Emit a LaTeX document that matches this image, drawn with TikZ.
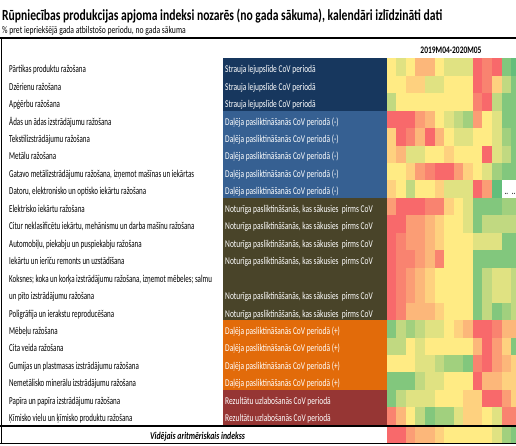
\documentclass[tikz,border=0pt]{standalone}
\usepackage{fontspec}
\setmainfont{Carlito}
\newfontfamily\labf[FakeStretch=0.75]{Carlito}
\newfontfamily\rowf[FakeStretch=0.66]{Carlito}
\newfontfamily\catf[FakeStretch=0.715]{Carlito}
\definecolor{hred}{HTML}{F8696B}
\definecolor{hyel}{HTML}{FFEB84}
\definecolor{hgrn}{HTML}{63BE7B}
\definecolor{navyc}{HTML}{17375E}
\definecolor{steelc}{HTML}{366092}
\definecolor{olivec}{HTML}{494429}
\definecolor{orngc}{HTML}{E26B0A}
\definecolor{dredc}{HTML}{963634}
\tikzset{
  lab/.style={anchor=base west, inner sep=0pt, font=\rowf\fontsize{10.6}{12}\selectfont, text=black},
  catlab/.style={anchor=base west, inner sep=0pt, font=\catf\fontsize{10.4}{12}\selectfont, text=white},
}
\begin{document}
\begin{tikzpicture}[x=1pt,y=-1pt]
\useasboundingbox (0,0) rectangle (516,446);
\clip (0,0) rectangle (516,446);
\fill[white] (0,0) rectangle (516,446);
\def\rowtop{58.3}
\def\rh{17.45}
\def\cx{386.7}
\def\cw{9.57}
\def\catx{222.7}
% title
\node[anchor=base west, inner sep=0pt, font=\labf\bfseries\fontsize{15.5}{18}\selectfont] (title) at (2,20.5) {Rūpniecības produkcijas apjoma indeksi nozarēs (no gada sākuma), kalendāri izlīdzināti dati};
\node[anchor=base west, inner sep=0pt, font=\labf\fontsize{10.2}{12}\selectfont] (sub) at (2,33.5) {\% pret iepriekšējā gada atbilstošo periodu, no gada sākuma};
\draw[line width=2pt] (0,37.8) -- (516,37.8);
\node[anchor=base, inner sep=0pt, font=\labf\bfseries\fontsize{10}{12}\selectfont] (hdr) at (451,53.5) {2019M04-2020M05};
% category blocks
\fill[navyc] (\catx,{\rowtop}) rectangle (\cx,{\rowtop+3*\rh});
\fill[steelc] (\catx,{\rowtop+3*\rh}) rectangle (\cx,{\rowtop+8*\rh});
\fill[olivec] (\catx,{\rowtop+8*\rh}) rectangle (\cx,{\rowtop+15*\rh});
\fill[orngc] (\catx,{\rowtop+15*\rh}) rectangle (\cx,{\rowtop+19*\rh});
\fill[dredc] (\catx,{\rowtop+19*\rh}) rectangle (\cx,{\rowtop+21*\rh});
% heat cells
\foreach \k/\n/\vals in {
 0/1/{5,6,5,3,3,5,6,6,6,0,1,0,9,10},
 1/1/{5,5,4,4,6,6,5,5,5,0,1,4,7,9},
 2/1/{7,5,5,5,5,5,5,5,5,1,0,7,9,9},
 3/1/{0,0,0,2,3,5,6,7,8,2,5,6,9,9},
 4/1/{4,0,1,3,0,3,5,6,6,5,5,6,8,9},
 5/1/{4,3,6,6,5,5,4,5,5,5,0,6,7,9},
 6/1/{5,5,4,2,1,0,0,2,4,5,6,8,9,9},
 7/1/{4,5,7,5,5,4,6,6,6,0,2,10},
 8/1/{2,0,0,0,1,1,4,5,6,9,9,9,8,8},
 9/1/{0,0,2,2,3,4,5,5,6,9,7,7,7,7},
 10/1/{0,1,2,2,3,4,5,5,5,6,6,6,9,9},
 11/1/{0,1,1,2,3,1,5,5,5,9,9,9,9,9},
 12/2/{0,1,2,3,4,5,5,5,5,9,7,6,6,7},
 14/1/{0,1,3,3,3,4,5,5,5,9,7,9,8,7},
 15/1/{9,7,8,7,6,6,5,4,3,0,0,1,3,3},
 16/1/{7,7,5,6,5,5,5,5,5,3,0,2,4,9},
 17/1/{5,5,5,6,6,7,8,8,9,1,0,2,3,4},
 18/1/{9,9,9,7,6,6,5,5,5,0,3,3,4,4},
 19/1/{9,7,6,6,6,5,5,5,4,4,0,0,2,4},
 20/1/{1,3,5,7,9,8,8,6,4,4,5,6,1,1}} {
  \foreach \v [count=\c from 0] in \vals {
    \pgfmathtruncatemacro\lo{\v<=5}
    \ifnum\lo=1 \pgfmathtruncatemacro\p{\v*20}\colorlet{cellc}{hyel!\p!hred}%
    \else \pgfmathtruncatemacro\p{(\v-5)*20}\colorlet{cellc}{hgrn!\p!hyel}\fi
    \fill[cellc] ({\cx+\c*\cw},{\rowtop+\k*\rh}) rectangle ({\cx+(\c+1)*\cw+0.3},{\rowtop+(\k+\n)*\rh+0.3});
  }
}
% white cells with ..
\fill[white] ({\cx+12*\cw},{\rowtop+7*\rh}) rectangle (516,{\rowtop+8*\rh});
\node[lab, anchor=base] (dots1) at ({\cx+12.5*\cw},{\rowtop+8*\rh-3}) {..};
\node[lab, anchor=base east] (dots2) at (515.5,{\rowtop+8*\rh-3}) {..};
% average row
\foreach \v [count=\c from 0] in {0,0,2,3,3,4,5,5,5,5,5,6,8,9} {
    \pgfmathtruncatemacro\lo{\v<=5}
    \ifnum\lo=1 \pgfmathtruncatemacro\p{\v*20}\colorlet{cellc}{hyel!\p!hred}%
    \else \pgfmathtruncatemacro\p{(\v-5)*20}\colorlet{cellc}{hgrn!\p!hyel}\fi
    \fill[cellc] ({\cx+\c*\cw},427) rectangle ({\cx+(\c+1)*\cw+0.3},443.5);
}
\node[anchor=base, inner sep=0pt, font=\labf\bfseries\itshape\fontsize{10.4}{12}\selectfont] (avg) at (197.5,439) {Vidējais aritmēriskais indekss};
% row labels
\foreach \k/\t in {
 0/{Pārtikas produktu ražošana},
 1/{Dzērienu ražošana},
 2/{Apģērbu ražošana},
 3/{Ādas un ādas izstrādājumu ražošana},
 4/{Tekstilizstrādājumu ražošana},
 5/{Metālu ražošana},
 6/{Gatavo metālizstrādājumu ražošana, izņemot mašīnas un iekārtas},
 7/{Datoru, elektronisko un optisko iekārtu ražošana},
 8/{Elektrisko iekārtu ražošana},
 9/{Citur neklasificētu iekārtu, mehānismu un darba mašīnu ražošana},
 10/{Automobiļu, piekabju un puspiekabju ražošana},
 11/{Iekārtu un ierīču remonts un uzstādīšana},
 12/{Koksnes; koka un korķa izstrādājumu ražošana, izņemot mēbeles; salmu},
 13/{un pīto izstrādājumu ražošana},
 14/{Poligrāfija un ierakstu reproducēšana},
 15/{Mēbeļu ražošana},
 16/{Cita veida ražošana},
 17/{Gumijas un plastmasas izstrādājumu ražošana},
 18/{Nemetālisko minerālu izstrādājumu ražošana},
 19/{Papīra un papīra izstrādājumu ražošana},
 20/{Ķīmisko vielu un ķīmisko produktu ražošana}} {
  \node[lab] (l\k) at (9,{\rowtop+(\k+1)*\rh-3}) {\t};
}
% category labels
\foreach \k/\t in {
 0/{Strauja lejupslīde CoV periodā},
 1/{Strauja lejupslīde CoV periodā},
 2/{Strauja lejupslīde CoV periodā},
 3/{Daļēja pasliktināšanās CoV periodā (-)},
 4/{Daļēja pasliktināšanās CoV periodā (-)},
 5/{Daļēja pasliktināšanās CoV periodā (-)},
 6/{Daļēja pasliktināšanās CoV periodā (-)},
 7/{Daļēja pasliktināšanās CoV periodā (-)},
 8/{Noturīga pasliktināšanās, kas sākusies\ \ pirms CoV},
 9/{Noturīga pasliktināšanās, kas sākusies\ \ pirms CoV},
 10/{Noturīga pasliktināšanās, kas sākusies\ \ pirms CoV},
 11/{Noturīga pasliktināšanās, kas sākusies\ \ pirms CoV},
 13/{Noturīga pasliktināšanās, kas sākusies\ \ pirms CoV},
 14/{Noturīga pasliktināšanās, kas sākusies\ \ pirms CoV},
 15/{Daļēja pasliktināšanās CoV periodā (+)},
 16/{Daļēja pasliktināšanās CoV periodā (+)},
 17/{Daļēja pasliktināšanās CoV periodā (+)},
 18/{Daļēja pasliktināšanās CoV periodā (+)},
 19/{Rezultātu uzlabošanās CoV periodā},
 20/{Rezultātu uzlabošanās CoV periodā}} {
  \node[catlab] (c\k) at (225,{\rowtop+(\k+1)*\rh-3}) {\t};
}
% frame lines
\draw[line width=0.8pt] (1,38) -- (1,444);
\draw[line width=2pt] (0,425.5) -- (516,425.5);
\draw[line width=1pt] (0,443.8) -- (516,443.8);
\end{tikzpicture}
\end{document}
